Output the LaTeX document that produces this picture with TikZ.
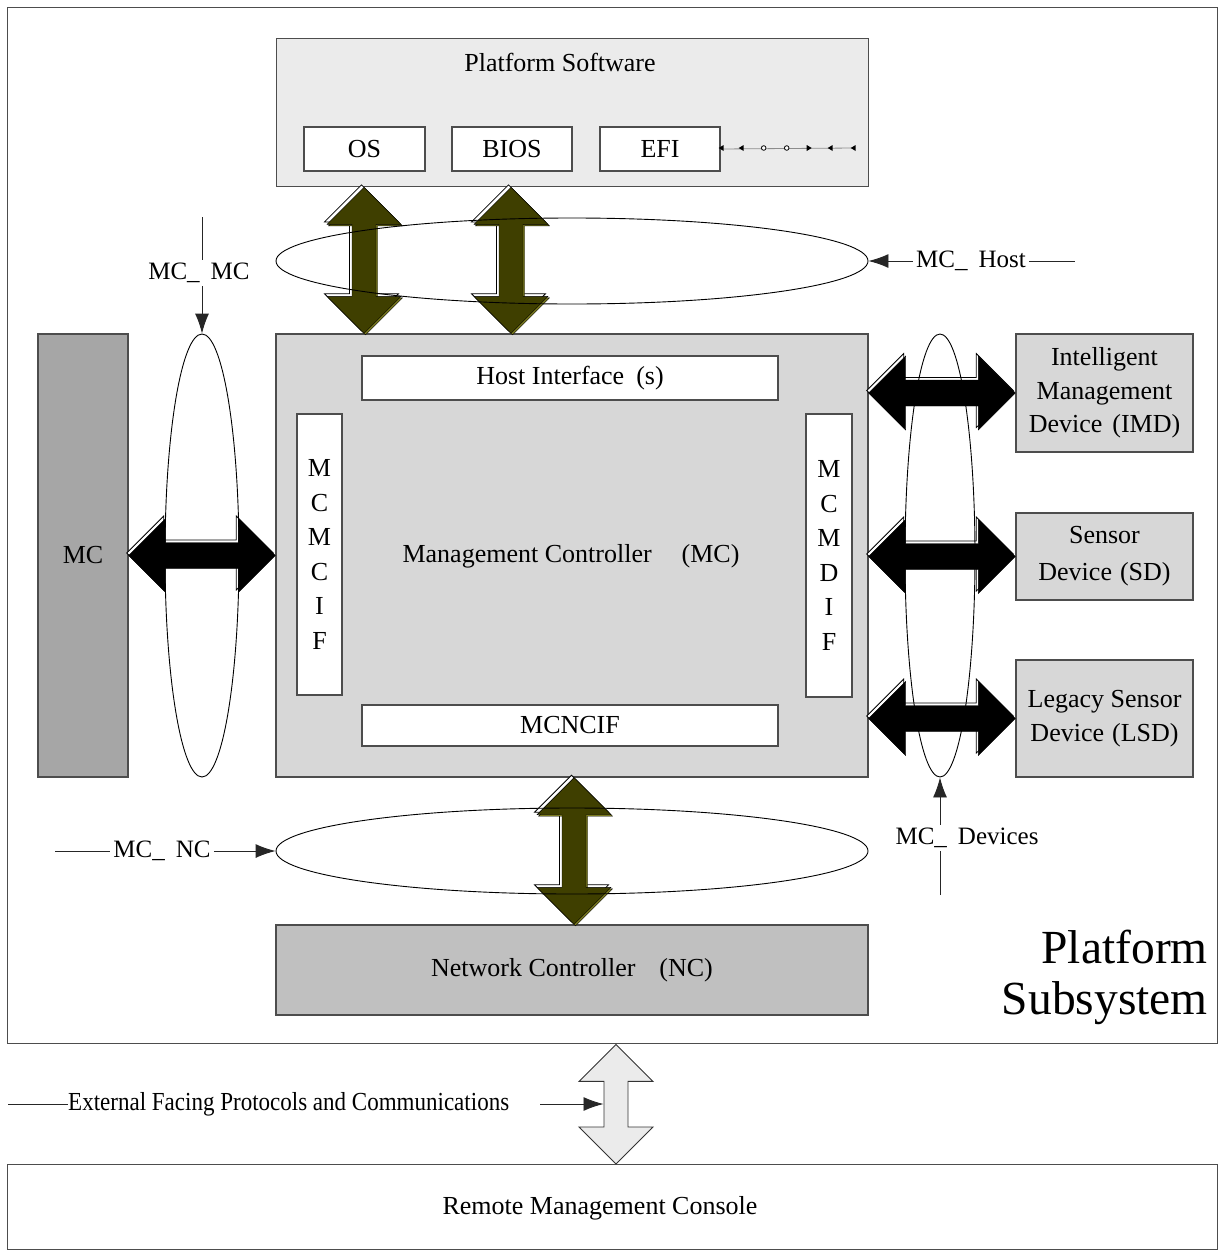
\documentclass[tikz,border=0pt]{standalone}
\usepackage{fontspec}
\setmainfont{Liberation Serif}
\usetikzlibrary{shapes.geometric,arrows.meta,calc}

\definecolor{swfill}{HTML}{EBEBEB}
\definecolor{mcfill}{HTML}{D7D7D7}
\definecolor{peerfill}{HTML}{A6A6A6}
\definecolor{ncfill}{HTML}{C0C0C0}
\definecolor{busolive}{HTML}{3F3F00}
\definecolor{busshade}{HTML}{7A7A1E}
\definecolor{edge}{HTML}{4D4D4D}

% vertical double-headed bus arrow: top tip, bottom tip, style, offset
\newcommand\busV[4]{%
  \draw[#3] ($(#1)+(#4)$) -- ++(37,37) -- ++(-25,0)
    -- ($(#2)+(#4)+(12,-37)$) -- ++(25,0) -- ($(#2)+(#4)$)
    -- ++(-37,-37) -- ++(25,0) -- ($(#1)+(#4)+(-12,37)$) -- ++(-25,0) -- cycle;}
% horizontal double-headed bus arrow: left tip, right tip, style, offset
\newcommand\busH[4]{%
  \draw[#3] ($(#1)+(#4)$) -- ++(37,-37) -- ++(0,24)
    -- ($(#2)+(#4)+(-37,-13)$) -- ++(0,-24) -- ($(#2)+(#4)$)
    -- ++(-37,37) -- ++(0,-24) -- ($(#1)+(#4)+(37,13)$) -- ++(0,24) -- cycle;}

\begin{document}
\begin{tikzpicture}[x=1pt,y=-1pt,
  box/.style={draw=edge, line width=1.4pt, inner sep=0pt, font=\fontsize{26}{33}\selectfont, align=center},
  lbl/.style={inner sep=0pt, font=\fontsize{26}{33}\selectfont, align=center},
  tag/.style={inner sep=3pt, font=\fontsize{25}{30}\selectfont},
  wire/.style={line width=0.9pt, draw=black!85},
  arr/.style={wire, -{Latex[length=20pt,width=14pt]}},
  halo/.style={fill=white, draw=black, line width=0.8pt},
  shade/.style={fill=busshade},
  olivebody/.style={fill=busolive},
  blackbody/.style={fill=black},
  extbus/.style={fill=swfill, draw=black!80, line width=0.9pt},
  ell/.style={draw=black, ellipse, line width=0.9pt, inner sep=0pt},
]
\useasboundingbox (0,0) rectangle (1219,1250);

% enclosures
\node[draw=edge, line width=1.4pt, minimum width=1210pt, minimum height=1036pt, anchor=north west] (frame) at (7,7) {};
\node[draw=edge, line width=1.4pt, minimum width=1210pt, minimum height=85pt, anchor=north west] (rmc) at (7,1164) {};
\node[lbl] (rmct) at (600,1208) {Remote Management Console};
\node[lbl, font=\fontsize{47.5}{51}\selectfont, align=right, anchor=base east] (psub) at (1208,1014) {Platform\\Subsystem};

% platform software
\node[box, fill=swfill, minimum width=592pt, minimum height=148pt, anchor=north west] (ps) at (276,38) {};
\node[lbl] (pst) at (560,62) {Platform Software};
\node[box, fill=white, minimum width=121pt, minimum height=44pt] (os) at (364.5,149) {OS};
\node[box, fill=white, minimum width=120pt, minimum height=44pt] (bios) at (512,149) {BIOS};
\node[box, fill=white, minimum width=120pt, minimum height=44pt] (efi) at (660,149) {EFI};
\coordinate (efiend) at (855,148);
\draw[line width=0.8pt, draw=black!45] (efi.east) -- (efiend);
\foreach \mx in {721,741,830,853}
  \fill ($(efi.east |- efiend)+(\mx-720,0)$) ++(-3,0) -- ++(5,-3) -- ++(0,6) -- cycle;
\foreach \mx in {763,786}
  \draw[line width=0.8pt, fill=white] ($(efi.east |- efiend)+(\mx-720,0)$) circle (2.3);
\fill ($(efi.east |- efiend)+(88,0)$) ++(3,0) -- ++(-5,-3) -- ++(0,6) -- cycle;

% management controller
\node[box, fill=mcfill, minimum width=592pt, minimum height=443pt] (mc) at (572,555.5) {};
\node[box, fill=white, minimum width=416pt, minimum height=44pt] (hif) at (570,378) {Host Interface\hspace{12pt}(s)};
\node[box, fill=white, minimum width=416pt, minimum height=41pt] (ncif) at (570,725.5) {MCNCIF};
\node[box, fill=white, minimum width=45pt, minimum height=281pt] (mcif) at (319.5,554.5) {};
\node[lbl, font=\fontsize{26}{34.5}\selectfont] at (mcif) {M\\C\\M\\C\\I\\F};
\node[box, fill=white, minimum width=46pt, minimum height=283pt] (mdif) at (829,555.5) {};
\node[lbl, font=\fontsize{26}{34.5}\selectfont] at (mdif) {M\\C\\M\\D\\I\\F};
\node[lbl] (mct) at (571,556) {Management Controller\hspace{30pt}(MC)};

% peer controller and devices
\node[box, fill=peerfill, minimum width=90pt, minimum height=443pt] (mcl) at (83,555.5) {MC};
\node[box, fill=mcfill, minimum width=177pt, minimum height=118pt, font=\fontsize{26}{33.5}\selectfont] (imd) at (1104.5,393) {Intelligent\\Management\\Device\hspace{10pt}(IMD)};
\node[box, fill=mcfill, minimum width=177pt, minimum height=87pt, font=\fontsize{26}{37}\selectfont] (sd) at (1104.5,556.5) {Sensor\\Device\hspace{8pt}(SD)};
\node[box, fill=mcfill, minimum width=177pt, minimum height=117pt, font=\fontsize{26}{34}\selectfont] (lsd) at (1104.5,718.5) {Legacy Sensor\\Device\hspace{8pt}(LSD)};

% network controller
\node[box, fill=ncfill, minimum width=592pt, minimum height=90pt] (nc) at (572,970) {Network Controller\hspace{24pt}(NC)};

% olive host and network buses
\coordinate (busA) at (364,0);
\coordinate (busB) at (511,0);
\coordinate (busC) at (574,0);
\coordinate (aT) at (busA |- ps.south); \coordinate (aB) at (busA |- mc.north);
\coordinate (bT) at (busB |- ps.south); \coordinate (bB) at (busB |- mc.north);
\coordinate (cT) at (busC |- mc.south); \coordinate (cB) at (busC |- nc.north);
\foreach \t/\b in {aT/aB, bT/bB, cT/cB} {
  \busV{\t}{\b}{halo}{-2.5,-2.5}
  \busV{\t}{\b}{shade}{1.5,1.5}
  \busV{\t}{\b}{olivebody}{0,0}
}

% black device and peer buses
\coordinate (pL) at (mcl.east); \coordinate (pR) at (mc.west);
\coordinate (iL) at (mc.east |- imd.center); \coordinate (iR) at (imd.west);
\coordinate (sL) at (mc.east |- sd.center); \coordinate (sR) at (sd.west);
\coordinate (lL) at (mc.east |- lsd.center); \coordinate (lR) at (lsd.west);
\foreach \l/\r in {pL/pR, iL/iR, sL/sR, lL/lR} {
  \busH{\l}{\r}{halo}{-2,-2.5}
  \busH{\l}{\r}{blackbody}{0,0}
}

% external bus
\coordinate (xT) at (616,0);
\coordinate (eT) at (xT |- frame.south); \coordinate (eB) at (xT |- rmc.north);
\busV{eT}{eB}{extbus}{0,0}

% interface groupings
\node[ell, minimum width=592pt, minimum height=86pt] (eh) at (572,261) {};
\node[ell, minimum width=74pt, minimum height=443pt] (eml) at (202,555.5) {};
\node[ell, minimum width=70pt, minimum height=443pt] (emr) at (940,555.5) {};
\node[ell, minimum width=592pt, minimum height=86pt] (enc) at (572,851) {};

% interface labels
\node[tag] (lh) at (971,261) {MC\_\hspace{11pt}Host};
\coordinate (lhend) at (1075,261);
\draw[arr] (lh.west) -- (eh.east);
\draw[wire] (lh.east) -- (lhend);

\node[tag] (lmm) at (199,273) {MC\_\hspace{11pt}MC};
\coordinate (mmx) at (202,217);
\draw[wire] (mmx) -- (mmx |- lmm.north);
\draw[arr] (mmx |- lmm.south) -- (eml.north);

\node[tag] (lnc) at (162,851) {MC\_\hspace{11pt}NC};
\coordinate (ncstart) at (55,851);
\draw[wire] (ncstart) -- (lnc.west);
\draw[arr] (lnc.east) -- (enc.west);

\node[tag] (ldev) at (967,838) {MC\_\hspace{11pt}Devices};
\coordinate (devx) at (940,895);
\draw[wire] (devx) -- (devx |- ldev.south);
\draw[arr] (devx |- ldev.north) -- (emr.south);

\node[lbl, anchor=west] (ext) at (68,1104) {\scalebox{0.885}[1]{External Facing Protocols and Communications}};
\coordinate (extstart) at (8,1104);
\coordinate (extfrom) at (540,1104);
\coordinate (extto) at (603.5,1104);
\draw[wire] (extstart) -- (ext.west);
\draw[arr] (extfrom) -- (extto);
\end{tikzpicture}
\end{document}
